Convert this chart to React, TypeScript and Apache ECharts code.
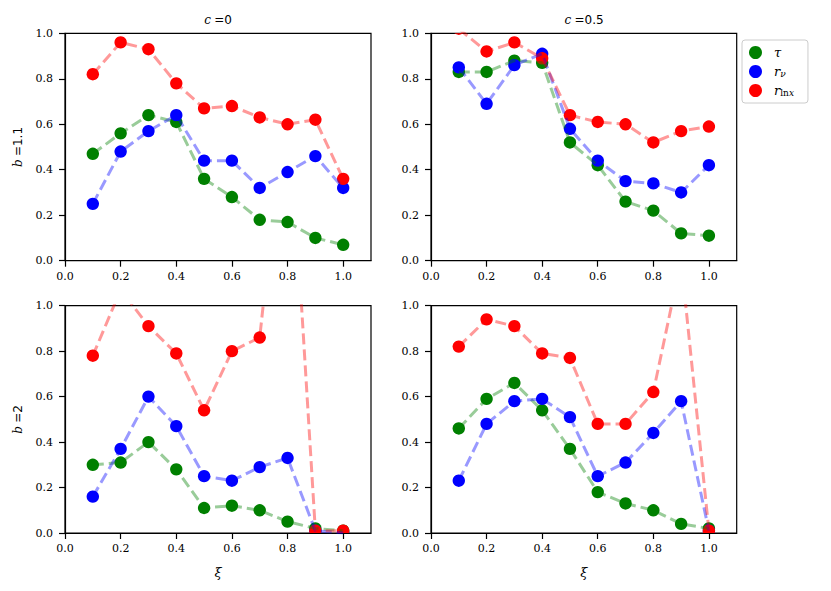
import React, { useEffect, useRef } from "react";
import * as echarts from "echarts";

// ---- data ----
const xi = [0.1, 0.2, 0.3, 0.4, 0.5, 0.6, 0.7, 0.8, 0.9, 1.0];
const tickValues = [0, 0.2, 0.4, 0.6, 0.8, 1.0];
const colTitles = ["0", "0.5"]; // c values
const rowLabels = ["1.1", "2"]; // b values
const seriesNames = ["τ", "rν", "rlnx"];
const seriesColors = ["#008000", "#0000ff", "#ff0000"];

// b = 1.1, c = 0
const tauB11C0 = [0.47, 0.56, 0.64, 0.61, 0.36, 0.28, 0.18, 0.17, 0.1, 0.07];
const rnuB11C0 = [0.25, 0.48, 0.57, 0.64, 0.44, 0.44, 0.32, 0.39, 0.46, 0.32];
const rlnB11C0 = [0.82, 0.96, 0.93, 0.78, 0.67, 0.68, 0.63, 0.6, 0.62, 0.36];
// b = 1.1, c = 0.5
const tauB11C05 = [0.83, 0.83, 0.88, 0.87, 0.52, 0.42, 0.26, 0.22, 0.12, 0.11];
const rnuB11C05 = [0.85, 0.69, 0.86, 0.91, 0.58, 0.44, 0.35, 0.34, 0.3, 0.42];
const rlnB11C05 = [1.02, 0.92, 0.96, 0.89, 0.64, 0.61, 0.6, 0.52, 0.57, 0.59];
// b = 2, c = 0
const tauB2C0 = [0.3, 0.31, 0.4, 0.28, 0.11, 0.12, 0.1, 0.05, 0.02, 0.01];
const rnuB2C0 = [0.16, 0.37, 0.6, 0.47, 0.25, 0.23, 0.29, 0.33, 0.01, 0.0];
const rlnB2C0 = [0.78, 1.07, 0.91, 0.79, 0.54, 0.8, 0.86, 2.0, 0.01, 0.01];
// b = 2, c = 0.5
const tauB2C05 = [0.46, 0.59, 0.66, 0.54, 0.37, 0.18, 0.13, 0.1, 0.04, 0.02];
const rnuB2C05 = [0.23, 0.48, 0.58, 0.59, 0.51, 0.25, 0.31, 0.44, 0.58, 0.01];
const rlnB2C05 = [0.82, 0.94, 0.91, 0.79, 0.77, 0.48, 0.48, 0.62, 1.2, 0.01];

const panels = [
  [tauB11C0, rnuB11C0, rlnB11C0],
  [tauB11C05, rnuB11C05, rlnB11C05],
  [tauB2C0, rnuB2C0, rlnB2C0],
  [tauB2C05, rnuB2C05, rlnB2C05],
];

const SERIF = "DejaVu Serif";
const SANS = "DejaVu Sans";

const mathRich = {
  i: { fontFamily: SERIF, fontStyle: "italic", fontSize: 12, color: "#000" },
  m: { fontFamily: SERIF, fontSize: 12, color: "#000" },
  n: { fontFamily: SANS, fontSize: 12, color: "#000" },
};

export default function App() {
  const ref = useRef<HTMLDivElement>(null);

  useEffect(() => {
    if (!ref.current) return;
    const chart = echarts.init(ref.current, undefined, { renderer: "svg" });

    const grids = [
      { left: 65, top: 33.3, width: 306, height: 227.4 },
      { left: 431, top: 33.3, width: 305.7, height: 227.4 },
      { left: 65, top: 305.7, width: 306, height: 227.3 },
      { left: 431, top: 305.7, width: 305.7, height: 227.3 },
    ].map((g) => ({
      ...g,
      show: true,
      borderColor: "#000",
      borderWidth: 1.2,
      backgroundColor: "transparent",
      containLabel: false,
    }));

    const labelStyle = {
      fontFamily: SERIF,
      fontSize: 11,
      color: "#000",
      formatter: (v: number) => v.toFixed(1),
      customValues: tickValues,
    };

    const xAxes = [0, 1, 2, 3].map((i) => ({
      type: "value",
      gridIndex: i,
      min: 0,
      max: 1.1,
      interval: 0.2,
      splitLine: { show: false },
      axisLine: { show: true, onZero: false, lineStyle: { color: "#000", width: 1.2 } },
      axisTick: { show: true, length: 6, lineStyle: { color: "#000", width: 1.2 }, customValues: tickValues },
      axisLabel: { ...labelStyle, margin: 10 },
      name: i >= 2 ? "{i|ξ}" : "",
      nameLocation: "middle",
      nameGap: 33,
      nameTextStyle: { rich: { i: { fontFamily: SERIF, fontStyle: "italic", fontSize: 13, color: "#000" } } },
    }));

    const yAxes = [0, 1, 2, 3].map((i) => ({
      type: "value",
      gridIndex: i,
      min: 0,
      max: 1.0,
      interval: 0.2,
      splitLine: { show: false },
      axisLine: { show: true, onZero: false, lineStyle: { color: "#000", width: 1.2 } },
      axisTick: { show: true, length: 6, lineStyle: { color: "#000", width: 1.2 }, customValues: tickValues },
      axisLabel: { ...labelStyle, margin: 12 },
      name: i % 2 === 0 ? `{i|b} {m|=}{n|${rowLabels[i / 2]}}` : "",
      nameLocation: "middle",
      nameRotate: 90,
      nameGap: 41,
      nameTextStyle: { rich: mathRich },
    }));

    const series: any[] = [];
    panels.forEach((panel, p) => {
      panel.forEach((vals, s) => {
        const data = xi.map((x, k) => [x, vals[k]]);
        const color = seriesColors[s];
        series.push({
          type: "custom",
          name: seriesNames[s],
          xAxisIndex: p,
          yAxisIndex: p,
          clip: true,
          silent: true,
          z: 2,
          itemStyle: { color },
          encode: { x: 0, y: 1 },
          data,
          renderItem: (params: any, api: any) => {
            const pt = api.coord([api.value(0), api.value(1)]);
            return {
              type: "circle",
              shape: { cx: pt[0], cy: pt[1], r: 6.2 },
              style: { fill: color },
            };
          },
        });
        series.push({
          type: "line",
          name: seriesNames[s] + "-line",
          xAxisIndex: p,
          yAxisIndex: p,
          data,
          clip: true,
          silent: true,
          z: 3,
          showSymbol: false,
          symbol: "none",
          lineStyle: { color, width: 3, type: [11, 5], opacity: 0.4 },
          emphasis: { disabled: true },
        });
      });
    });

    const legendRich = {
      i: { fontFamily: SERIF, fontStyle: "italic", fontSize: 13, lineHeight: 13, color: "#000" },
      s: { fontFamily: SERIF, fontStyle: "italic", fontSize: 9, lineHeight: 6, verticalAlign: "bottom", color: "#000" },
      r: { fontFamily: SERIF, fontSize: 9, lineHeight: 6, verticalAlign: "bottom", color: "#000" },
    };

    const legendText: Record<string, string> = {
      "τ": "{i|τ}",
      "rν": "{i|r}{s|ν}",
      "rlnx": "{i|r}{r|ln}{s|x}",
    };

    const titles = colTitles.map((c, k) => ({
      type: "text",
      x: k === 0 ? 218 : 584,
      y: 20,
      style: {
        text: `{i|c} {m|=}{n|${c}}`,
        rich: mathRich,
        align: "center",
        verticalAlign: "middle",
      },
    }));

    chart.setOption({
      animation: false,
      backgroundColor: "#fff",
      grid: grids,
      xAxis: xAxes,
      yAxis: yAxes,
      series,
      graphic: titles,
      legend: {
        data: seriesNames.map((n) => ({ name: n, icon: "circle" })),
        orient: "vertical",
        left: 742,
        top: 40,
        itemWidth: 27,
        itemHeight: 13,
        itemGap: 6,
        padding: [6, 14, 6, 7],
        backgroundColor: "#fff",
        borderColor: "#cccccc",
        borderWidth: 1,
        borderRadius: 3,
        selectedMode: false,
        formatter: (name: string) => legendText[name] || name,
        textStyle: { color: "#000", rich: legendRich },
      },
    });

    return () => chart.dispose();
  }, []);

  return (
    <div
      ref={ref}
      style={{ position: "absolute", left: 0, top: 0, width: 831, height: 591 }}
    />
  );
}
